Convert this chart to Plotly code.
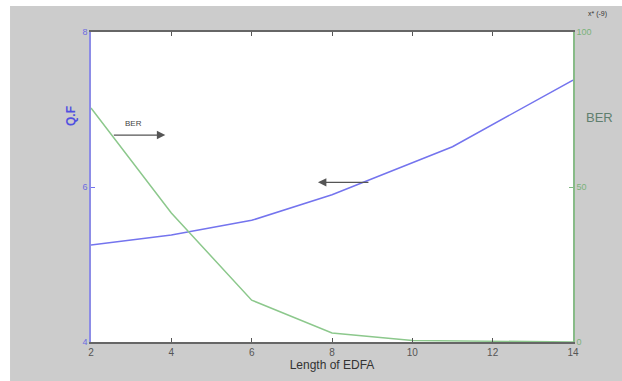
import plotly.graph_objects as go

# Data
qf_x = [2, 4, 6, 8, 11, 14]
qf_y = [5.25, 5.38, 5.57, 5.90, 6.52, 7.38]
ber_x = [2, 4, 6, 8, 10, 12, 14]
ber_y = [75.5, 41.6, 13.5, 2.9, 0.5, 0.2, 0.0]
x_ticks = [2, 4, 6, 8, 10, 12, 14]
qf_ticks = [4, 6, 8]
ber_ticks = [0, 50, 100]

BLUE = "#7474ee"
GREEN = "#8cc88c"
BG = "#cccccc"

fig = go.Figure()
fig.add_trace(go.Scatter(x=qf_x, y=qf_y, mode="lines", line=dict(color=BLUE, width=1.5),
                         yaxis="y", showlegend=False))
fig.add_trace(go.Scatter(x=ber_x, y=ber_y, mode="lines", line=dict(color=GREEN, width=1.5),
                         yaxis="y2", showlegend=False))

fig.update_layout(
    width=622, height=381,
    margin=dict(l=91, r=49, t=32, b=39),
    paper_bgcolor=BG, plot_bgcolor="white",
    font=dict(family="Liberation Sans, Arial, sans-serif", size=10, color="#444444"),
    xaxis=dict(range=[2, 14], tickvals=x_ticks, ticks="inside", ticklen=4,
               tickcolor="#555555", showline=True, linecolor="#666666", linewidth=1.5,
               mirror="ticks", showgrid=False, zeroline=False,
               tickfont=dict(size=10, color="#555555"),
               title=dict(text="Length of EDFA", font=dict(size=12, color="#333333"), standoff=4)),
    yaxis=dict(range=[4, 8], tickvals=qf_ticks, ticks="inside", ticklen=4, tickcolor=BLUE,
               showline=True, linecolor="#8c8ce6", linewidth=1.5, showgrid=False, zeroline=False,
               tickfont=dict(size=9, color="#6b6be0")),
    yaxis2=dict(range=[0, 100], tickvals=ber_ticks, overlaying="y", side="right",
                ticks="inside", ticklen=4, tickcolor="#80b880",
                showline=True, linecolor="#88bb88", linewidth=1.5, showgrid=False, zeroline=False,
                tickfont=dict(size=9, color="#7ab27a")),
    shapes=[
        dict(type="rect", xref="paper", yref="paper", x0=-0.3, x1=1.2, y0=1.084, y1=1.2,
             fillcolor="white", line=dict(width=0), layer="below"),
        dict(type="rect", xref="paper", yref="paper", x0=-0.3, x1=-0.168, y0=-0.2, y1=1.2,
             fillcolor="white", line=dict(width=0), layer="below"),
    ],
    annotations=[
        dict(text="<b>Q.F</b>", xref="paper", yref="paper", x=-0.043, y=0.73,
             textangle=-90, showarrow=False, font=dict(size=12, color="#5050e0"),
             xanchor="center", yanchor="middle"),
        dict(text="BER", xref="paper", yref="paper", x=1.056, y=0.725, showarrow=False,
             font=dict(size=13, color="#5f7f6f"), xanchor="center", yanchor="middle"),
        dict(text="x* (-9)", xref="paper", yref="paper", x=1.05, y=1.058, showarrow=False,
             font=dict(size=7, color="#333333"), xanchor="center", yanchor="middle"),
        dict(text="BER", x=3.05, y=6.82, xref="x", yref="y", showarrow=False,
             font=dict(size=8, color="#444444")),
        dict(x=3.85, y=6.67, ax=-53, ay=0, xref="x", yref="y",
             text="", showarrow=True, arrowhead=2, arrowsize=1.3, arrowwidth=1.3,
             arrowcolor="#555555"),
        dict(x=7.65, y=6.06, ax=52, ay=0, xref="x", yref="y",
             text="", showarrow=True, arrowhead=2, arrowsize=1.3, arrowwidth=1.3,
             arrowcolor="#555555"),
    ],
)

fig.write_html("out.html")
